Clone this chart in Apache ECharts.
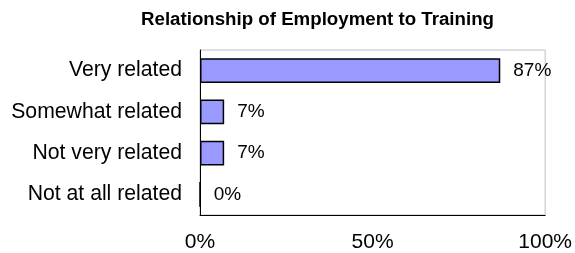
<!DOCTYPE html>
<html>
<head>
<meta charset="utf-8">
<script src="https://cdn.jsdelivr.net/npm/echarts@6/dist/echarts.min.js"></script>
<style>
html,body{margin:0;padding:0;background:#fff;}
#chart{width:575px;height:253px;}
</style>
</head>
<body>
<div id="chart"></div>
<script>
const titleText = 'Relationship of Employment to Training';
const categories = ['Very related', 'Somewhat related', 'Not very related', 'Not at all related'];
const values = [87, 7, 7, 0];
const xTicks = { min: 0, max: 100, interval: 50 };

const chart = echarts.init(document.getElementById('chart'), null, { renderer: 'canvas' });
const font = '"Liberation Sans", Arial, sans-serif';
chart.setOption({
  animation: false,
  backgroundColor: '#ffffff',
  title: {
    text: titleText,
    left: 141,
    top: 10,
    padding: 0,
    textStyle: { fontFamily: font, fontSize: 18.7, fontWeight: 'bold', color: '#000' }
  },
  grid: {
    left: 200, right: 29, top: 50, bottom: 37,
    show: true, borderColor: '#c0c0c0', borderWidth: 1, backgroundColor: 'transparent'
  },
  xAxis: {
    type: 'value',
    min: xTicks.min, max: xTicks.max, interval: xTicks.interval,
    axisLine: { show: true, lineStyle: { color: '#000', width: 1 } },
    axisTick: { show: false },
    splitLine: { show: false },
    axisLabel: { formatter: '{value}%', fontFamily: font, fontSize: 21, color: '#000', margin: 17 }
  },
  yAxis: {
    type: 'category',
    data: categories,
    inverse: true,
    axisLine: { show: true, lineStyle: { color: '#000', width: 1 } },
    axisTick: { show: false },
    splitLine: { show: false },
    axisLabel: { fontFamily: font, fontSize: 21.2, color: '#000', margin: 18 }
  },
  series: [{
    type: 'bar',
    data: values,
    barWidth: '60%',
    itemStyle: { color: '#9999FF', borderColor: '#000', borderWidth: 1.5 },
    label: {
      show: true, position: 'right', distance: 13,
      formatter: '{c}%', fontFamily: font, fontSize: 19, color: '#000'
    }
  }]
});
</script>
</body>
</html>
